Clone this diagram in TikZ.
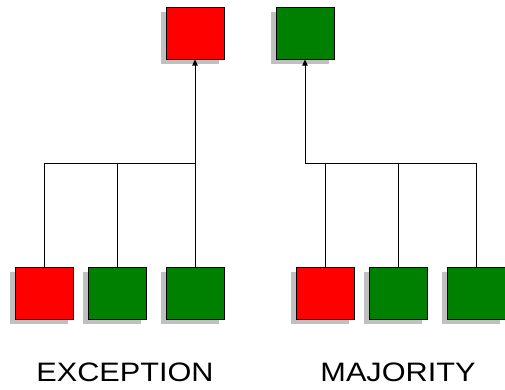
\documentclass[tikz,border=0pt]{standalone}
\usepackage{fontspec}
\setmainfont{Liberation Sans}
\newfontfamily\captionfont[FakeStretch=1.15]{Liberation Sans}
\usetikzlibrary{shadows,arrows.meta}

\definecolor{boxred}{RGB}{255,0,0}
\definecolor{boxgreen}{RGB}{0,128,0}
\definecolor{shadowgray}{RGB}{192,192,192}

\tikzset{every picture/.style={line width=0.75pt}}
\tikzset{
  votebox/.style={draw=black, minimum width=43.5pt, minimum height=39pt, inner sep=0pt,
    drop shadow={shadow xshift=-3.75pt, shadow yshift=-3.75pt, fill=shadowgray, opacity=1}},
  redbox/.style={votebox, fill=boxred},
  greenbox/.style={votebox, fill=boxgreen},
  uplink/.style={-{Triangle[length=4.5pt,width=4pt]}},
  caption/.style={anchor=base, inner sep=0.75pt, font=\captionfont\fontsize{20}{24}\selectfont}
}

\begin{document}
\begin{tikzpicture}[x=0.75pt,y=0.75pt,yscale=-1,xscale=1]
    \useasboundingbox (0,0) rectangle (505,389);

    %Shape: Rectangle [result, left]
    \node [redbox] (resl) at (195,33) {};
    %Shape: Rectangle [result, right]
    \node [greenbox] (resr) at (305,33) {};

    %Shape: Rectangle [votes, left]
    \node [redbox] (votel1) at (44,293) {};
    \node [greenbox] (votel2) at (117,293) {};
    \node [greenbox] (votel3) at (195,293) {};

    %Shape: Rectangle [votes, right]
    \node [redbox] (voter1) at (325,293) {};
    \node [greenbox] (voter2) at (398,293) {};
    \node [greenbox] (voter3) at (476,293) {};

    %Junctions
    \coordinate (joinl) at (195,163);
    \coordinate (joinr) at (305,163);

    %Straight Lines [left tree]
    \draw (votel1.north) |- (joinl);
    \draw (votel2.north) |- (joinl);
    \draw (votel3.north) -- (joinl);
    \draw [uplink] (joinl) -- (resl.south);

    %Straight Lines [right tree]
    \draw (voter3.north) |- (joinr);
    \draw (voter2.north) |- (joinr);
    \draw (voter1.north) |- (joinr);
    \draw [uplink] (joinr) -- (resr.south);

    % Text Node
    \node [caption] (exception) at (125,381) {EXCEPTION};
    % Text Node
    \node [caption] (majority) at (398,381) {MAJORITY};

\end{tikzpicture}
\end{document}
